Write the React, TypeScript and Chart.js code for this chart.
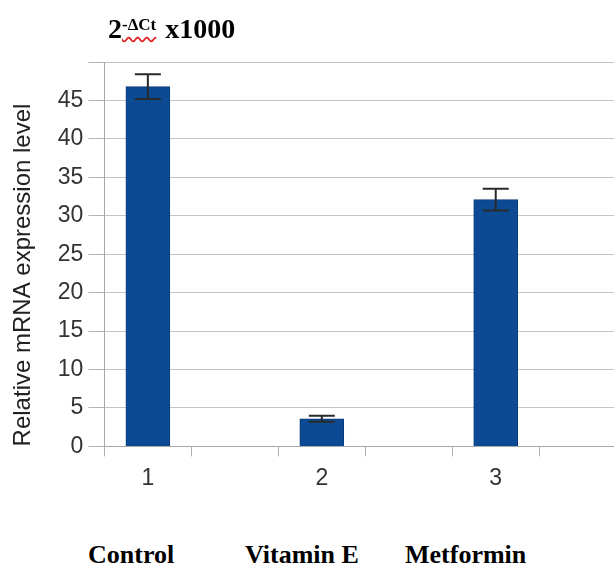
import React, { useEffect, useRef } from 'react';
import { Chart, registerables } from 'chart.js';

Chart.register(...registerables);

// ---- data ----
const groupNumbers = [1, 2, 3];
const tickLabels = ['1', '2', '3'];
const groupNames = ['Control', 'Vitamin E', 'Metformin'];
const expressionMeans = [46.8, 3.6, 32.1];
const expressionErrors = [1.6, 0.4, 1.4];
const xTickMarks = [0.75, 1.25, 1.75, 2.25, 2.75, 3.25];
const yAxisMax = 50;
const yStep = 5;

const SANS = '"Liberation Sans", Arial, sans-serif';
const SERIF = '"Liberation Serif", "Times New Roman", serif';

const errorBarPlugin = {
  id: 'errorBars',
  afterDatasetsDraw(chart: any) {
    const { ctx } = chart;
    const x = chart.scales.x;
    const y = chart.scales.y;
    ctx.save();
    ctx.strokeStyle = '#2a2a2a';
    ctx.lineWidth = 2;
    groupNumbers.forEach((g, i) => {
      const px = x.getPixelForValue(g);
      const top = y.getPixelForValue(expressionMeans[i] + expressionErrors[i]);
      const bot = y.getPixelForValue(expressionMeans[i] - expressionErrors[i]);
      const half = 13;
      ctx.beginPath();
      ctx.moveTo(px, top);
      ctx.lineTo(px, bot);
      ctx.moveTo(px - half, top);
      ctx.lineTo(px + half, top);
      ctx.moveTo(px - half, bot);
      ctx.lineTo(px + half, bot);
      ctx.stroke();
    });
    ctx.restore();
  },
};

export default function App() {
  const ref = useRef<HTMLCanvasElement | null>(null);

  useEffect(() => {
    if (!ref.current) return;
    const chart = new Chart(ref.current, {
      type: 'bar',
      data: {
        datasets: [
          {
            data: groupNumbers.map((g, i) => ({ x: g, y: expressionMeans[i] })),
            backgroundColor: '#0c4b94',
            borderColor: '#083a78',
            borderWidth: 1,
            barThickness: 44,
          },
        ],
      },
      options: {
        animation: false,
        responsive: false,
        maintainAspectRatio: false,
        layout: { padding: { top: 62, left: 9, right: 0, bottom: 8 } },
        plugins: { legend: { display: false }, tooltip: { enabled: false } },
        scales: {
          x: {
            type: 'linear',
            min: 0.75,
            max: 3.68,
            offset: false,
            afterBuildTicks: (scale: any) => {
              const vals = [...xTickMarks, ...groupNumbers].sort((a, b) => a - b);
              scale.ticks = vals.map((v) => ({ value: v }));
            },
            ticks: {
              autoSkip: false,
              maxRotation: 0,
              padding: 8,
              color: '#333333',
              font: { family: SANS, size: 23 },
              callback: (v: any) => {
                const i = groupNumbers.indexOf(Number(v));
                return i >= 0 ? tickLabels[i] : '';
              },
            },
            grid: {
              offset: false,
              drawOnChartArea: false,
              tickLength: 10,
              color: '#b0b0b0',
              tickColor: (c: any) =>
                c.tick && Number.isInteger(c.tick.value) ? 'rgba(0,0,0,0)' : '#b0b0b0',
            },
            border: { color: '#a8a8a8', width: 1 },
          },
          y: {
            min: 0,
            max: yAxisMax,
            ticks: {
              stepSize: yStep,
              padding: 5,
              color: '#333333',
              font: { family: SANS, size: 23 },
              callback: (v: any) => (Number(v) === yAxisMax ? '' : String(v)),
            },
            grid: { color: '#c4c4c4', tickLength: 16, tickColor: '#b4b4b4' },
            border: { color: '#a8a8a8', width: 1 },
            title: {
              display: true,
              text: 'Relative mRNA expression level',
              align: 'start',
              color: '#222222',
              font: { family: SANS, size: 24 },
              padding: { top: 0, bottom: 15 },
            },
          },
        },
      },
      plugins: [errorBarPlugin],
    });
    return () => chart.destroy();
  }, []);

  const labelLefts = [88, 245, 405];

  return (
    <div style={{ position: 'fixed', left: 0, top: 0, width: 614, height: 566, background: '#fff', overflow: 'hidden' }}>
      <canvas ref={ref} width={614} height={508} style={{ position: 'absolute', left: 0, top: 0, width: 614, height: 508 }} />
      <div
        style={{
          position: 'absolute',
          left: 108,
          top: 14,
          fontFamily: SERIF,
          fontWeight: 'bold',
          fontSize: 28,
          color: '#000',
          whiteSpace: 'nowrap',
          lineHeight: '30px',
        }}
      >
        2
        <sup
          style={{
            fontSize: 17,
            verticalAlign: 'top',
            position: 'relative',
            top: -4,
            marginRight: 2,
            textDecoration: 'underline wavy #e02020',
            textUnderlineOffset: 6,
          }}
        >
          -ΔCt
        </sup>{' '}
        x1000
      </div>
      {groupNames.map((name, i) => (
        <div
          key={name}
          style={{
            position: 'absolute',
            left: labelLefts[i],
            top: 540,
            fontFamily: SERIF,
            fontWeight: 'bold',
            fontSize: 26,
            lineHeight: '30px',
            color: '#000',
            whiteSpace: 'nowrap',
          }}
        >
          {name}
        </div>
      ))}
    </div>
  );
}
